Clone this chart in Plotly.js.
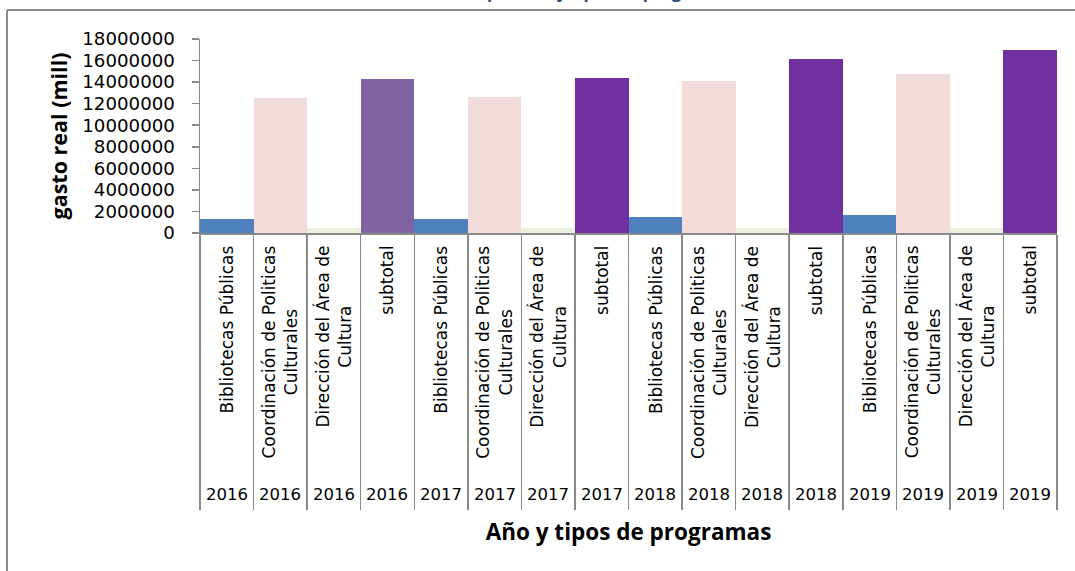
<!DOCTYPE html>
<html>
<head>
<meta charset="utf-8">
<script src="https://cdn.plot.ly/plotly-3.0.1.min.js"></script>
<style>html,body{margin:0;padding:0;background:#fff;}#chart{width:1075px;height:571px;}</style>
</head>
<body>
<div id="chart"></div>
<script>
// ---- data ----
const years = ['2016','2016','2016','2016','2017','2017','2017','2017','2018','2018','2018','2018','2019','2019','2019','2019'];
const programs = ['Bibliotecas Públicas','Coordinación de Politicas Culturales','Dirección del Área de Cultura','subtotal',
                  'Bibliotecas Públicas','Coordinación de Politicas Culturales','Dirección del Área de Cultura','subtotal',
                  'Bibliotecas Públicas','Coordinación de Politicas Culturales','Dirección del Área de Cultura','subtotal',
                  'Bibliotecas Públicas','Coordinación de Politicas Culturales','Dirección del Área de Cultura','subtotal'];
const gastoReal = [1320000, 12500000, 460000, 14300000,
                   1290000, 12650000, 460000, 14420000,
                   1480000, 14100000, 490000, 16100000,
                   1670000, 14750000, 490000, 16950000];
const programTickLabels = {
  'Bibliotecas Públicas': 'Bibliotecas Públicas',
  'Coordinación de Politicas Culturales': 'Coordinación de Politicas<br>Culturales',
  'Dirección del Área de Cultura': 'Dirección del Área de<br>Cultura',
  'subtotal': 'subtotal'
};
const chartTitle = 'Gasto real por año y tipos de programas';
const xTitle = 'Año y tipos de programas';
const yTitle = 'gasto real (mill)';

// ---- styles ----
const programColors = {
  'Bibliotecas Públicas': '#4F81BD',
  'Coordinación de Politicas Culturales': '#F2DCDB',
  'Dirección del Área de Cultura': '#EBF1DE',
  'subtotal': '#7030A0'
};
const firstSubtotalColor = '#8064A2';
const FONT = '"Open Sans", Lato, sans-serif';
const LABELFONT = '"DejaVu Sans", sans-serif';
const GREY = '#8a8a8a';

const keys = years.map((y, i) => y + ' | ' + programs[i]);
const colors = programs.map((p, i) => (p === 'subtotal' && years[i] === years[0]) ? firstSubtotalColor : programColors[p]);

const trace = {
  type: 'bar',
  x: keys,
  y: gastoReal,
  marker: {color: colors, line: {width: 0}},
  width: 1,
  hoverinfo: 'x+y'
};

const annotations = [];
keys.forEach((k, i) => {
  annotations.push({
    x: k, xref: 'x', y: -0.055, yref: 'paper',
    text: programTickLabels[programs[i]], textangle: -90,
    xanchor: 'center', yanchor: 'top', align: 'center',
    showarrow: false, font: {family: LABELFONT, size: 17, color: '#000'}
  });
  annotations.push({
    x: k, xref: 'x', y: -1.347, yref: 'paper',
    text: years[i], xanchor: 'center', yanchor: 'middle',
    showarrow: false, font: {family: LABELFONT, size: 16.5, color: '#000'}
  });
});
// chart title, mostly cropped at top of picture
annotations.push({
  x: (565 - 200) / 857, xref: 'paper', y: 1 + (39 - 5) / 194, yref: 'paper',
  text: '<b>' + chartTitle + '</b>', xanchor: 'center', yanchor: 'bottom',
  showarrow: false, font: {family: FONT, size: 17, color: '#1F497D'}
});

const shapes = [
  // outer chart frame (left and top)
  {type: 'line', xref: 'paper', yref: 'paper', x0: (7 - 200) / 857, x1: (7 - 200) / 857, y0: 1 + (39 - 10) / 194, y1: -(571 - 233) / 194 - 0.1, line: {color: GREY, width: 2}},
  {type: 'line', xref: 'paper', yref: 'paper', x0: (7 - 200) / 857, x1: (1080 - 200) / 857, y0: 1 + (39 - 10) / 194, y1: 1 + (39 - 10) / 194, line: {color: GREY, width: 2}}
];

const layout = {
  width: 1075, height: 571,
  margin: {l: 200, r: 18, t: 39, b: 338, pad: 0},
  paper_bgcolor: '#fff', plot_bgcolor: '#fff',
  showlegend: false,
  bargap: 0,
  font: {family: FONT, color: '#000'},
  xaxis: {
    type: 'category', categoryorder: 'array', categoryarray: keys,
    range: [-0.5, keys.length - 0.5],
    showticklabels: false,
    ticks: 'outside', tickson: 'boundaries', ticklen: 275, tickwidth: 1.5, tickcolor: GREY,
    showline: true, linecolor: GREY, linewidth: 1.5,
    showgrid: false, zeroline: false,
    title: {text: '<b>' + xTitle + '</b>', font: {family: FONT, size: 22.5, color: '#000'}, standoff: 290}
  },
  yaxis: {
    range: [0, 18000000], dtick: 2000000, tick0: 0, tickformat: 'd',
    ticks: 'outside', ticklen: 7, tickwidth: 1.5, tickcolor: GREY,
    showline: true, linecolor: GREY, linewidth: 1.5,
    showgrid: false, zeroline: false,
    tickfont: {family: LABELFONT, size: 18.2, color: '#000'},
    ticklabelstandoff: 13,
    title: {text: '<b>' + yTitle + '</b>', font: {family: FONT, size: 21.5, color: '#000'}, standoff: 9}
  },
  annotations: annotations,
  shapes: shapes
};

Plotly.newPlot('chart', [trace], layout, {displayModeBar: false, staticPlot: true});
</script>
</body>
</html>
